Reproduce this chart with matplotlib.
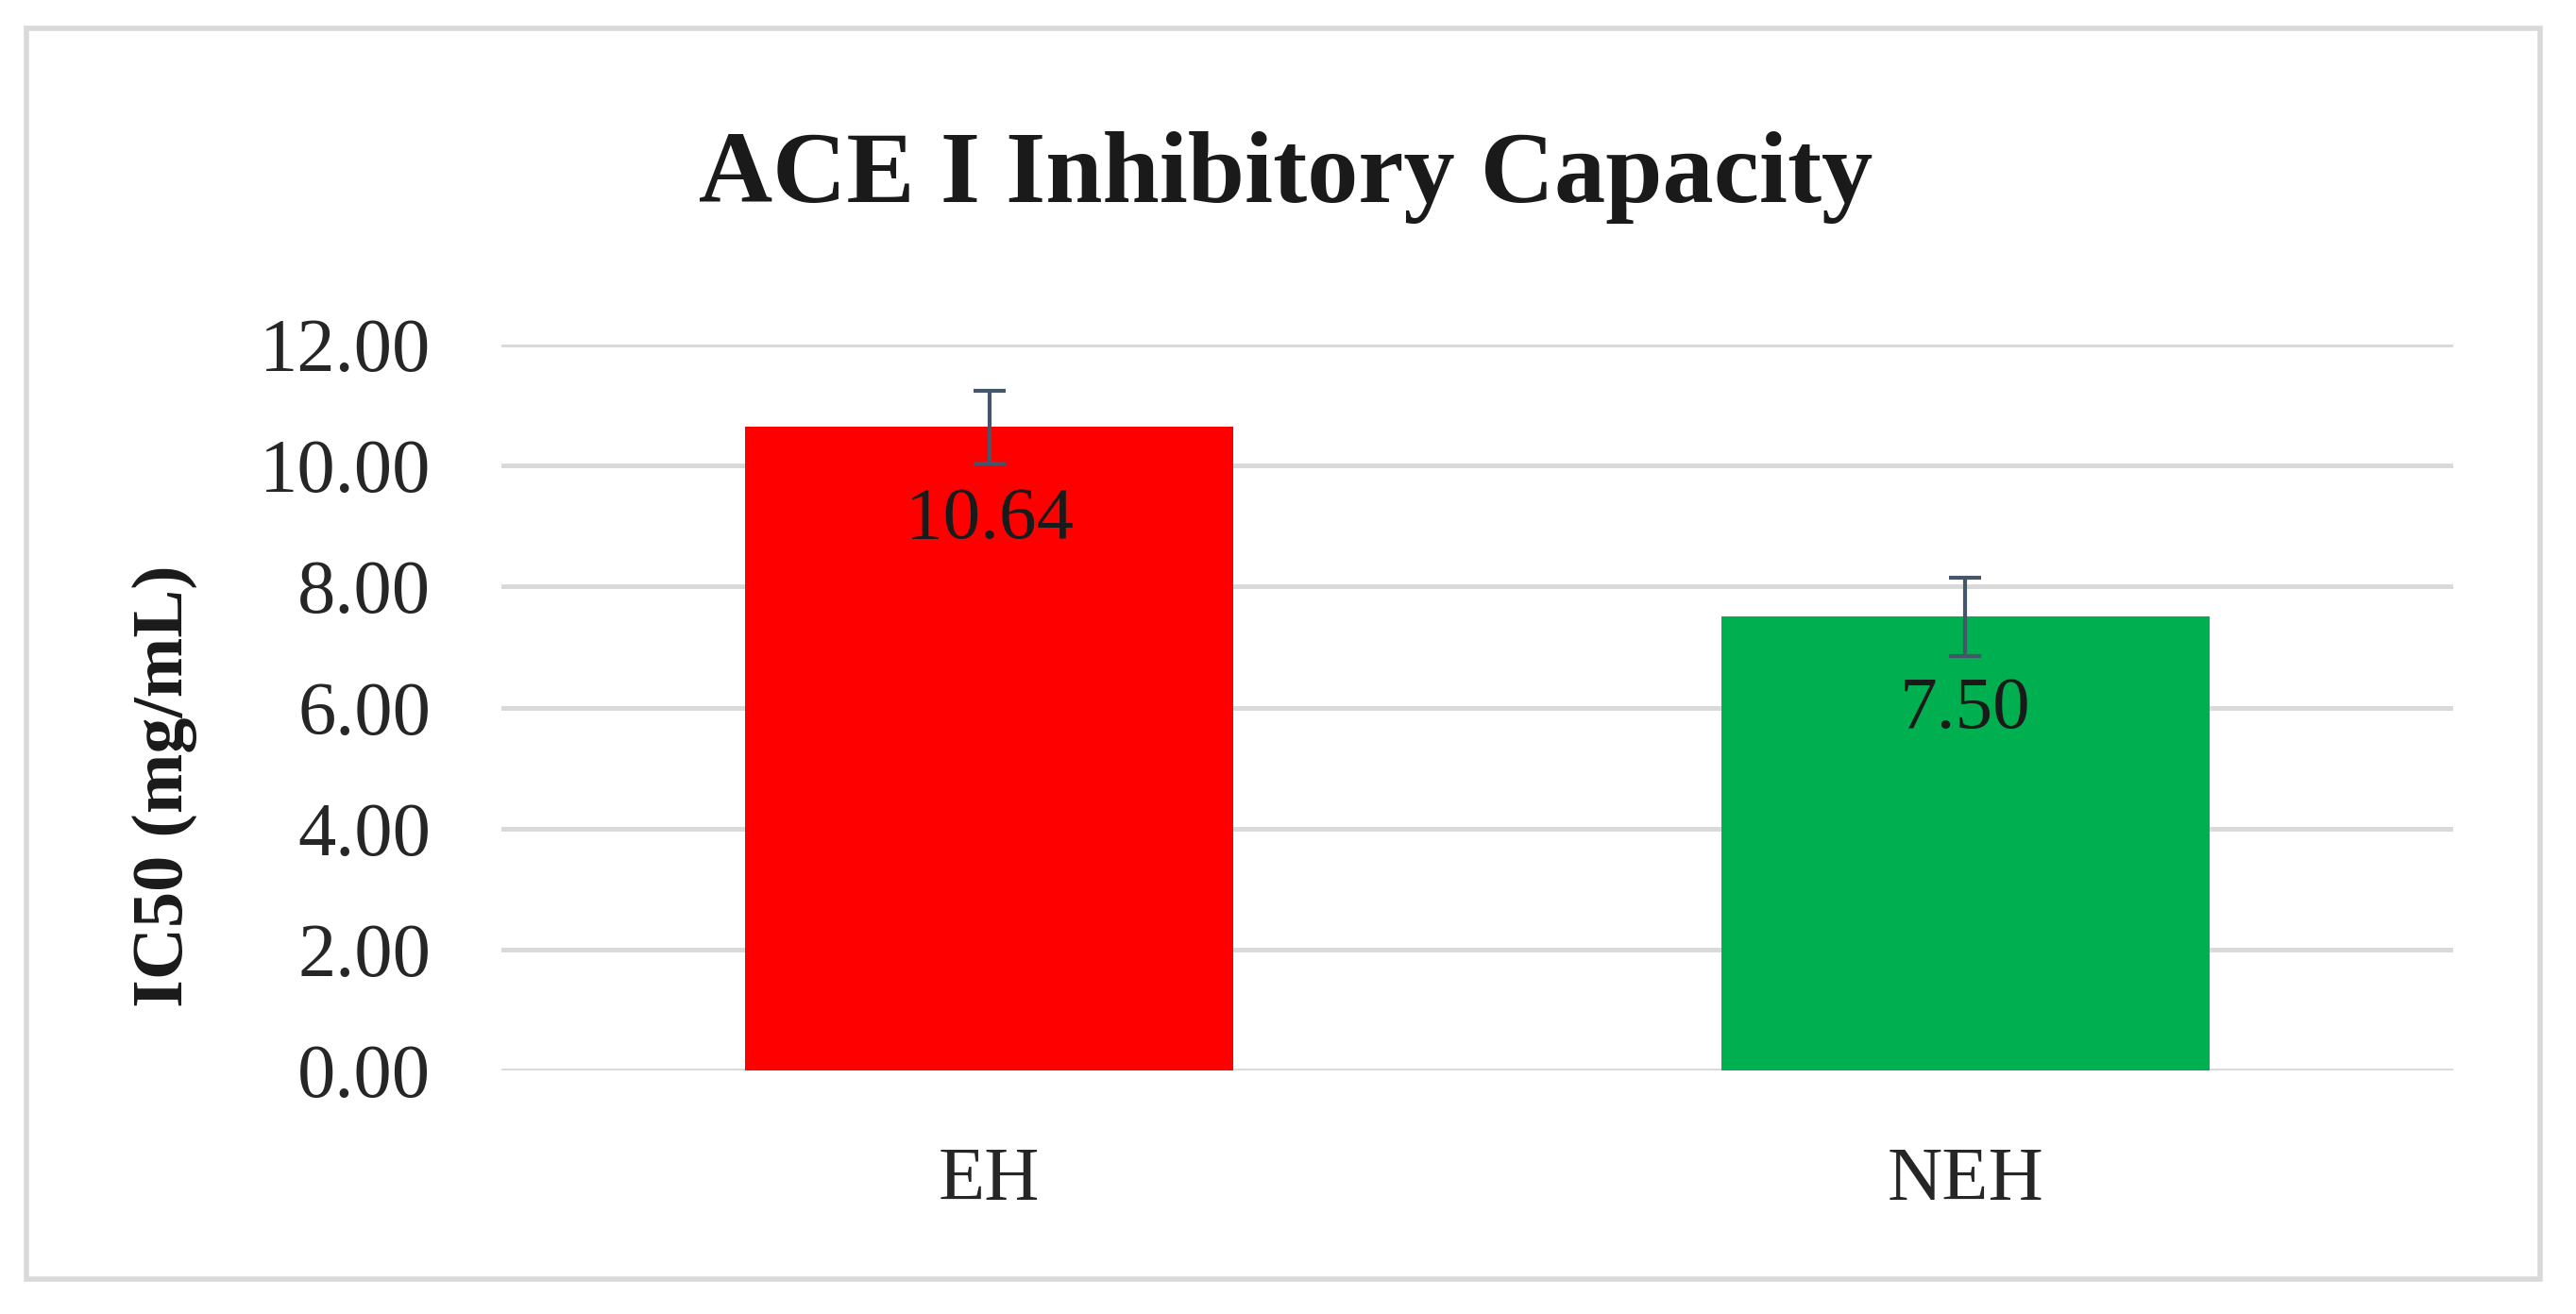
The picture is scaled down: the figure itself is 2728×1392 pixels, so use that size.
import matplotlib
matplotlib.use("Agg")
import matplotlib.pyplot as plt
from matplotlib.patches import Rectangle

categories = ["EH", "NEH"]
ic50_values = [10.64, 7.50]
ic50_errors = [0.60, 0.65]
bar_colors = ["#ff0000", "#00b050"]
y_ticks = [0, 2, 4, 6, 8, 10, 12]
title_text = "ACE I Inhibitory Capacity"
y_label_text = "IC50 (mg/mL)"

plt.rcParams['font.family'] = ['Liberation Serif', 'DejaVu Serif']

fig = plt.figure(figsize=(27.28, 13.92), dpi=100)
fig.patch.set_facecolor("white")

ax = fig.add_axes([0.1947, 0.1853, 0.7576, 0.5525])
x = list(range(len(categories)))
ax.bar(x, ic50_values, width=0.5, color=bar_colors, zorder=3)
ax.errorbar(x, ic50_values, yerr=ic50_errors, fmt='none', ecolor='#46566a',
            elinewidth=3, capsize=12, capthick=3, zorder=4)

for xi, v in zip(x, ic50_values):
    ax.annotate(f"{v:.2f}", xy=(xi, v), xytext=(0, -71), textcoords='offset points',
                ha='center', va='center', fontsize=57, color='#1a1a1a', zorder=5)

ax.set_xlim(-0.5, 1.5)
ax.set_ylim(0, 12)
ax.set_yticks(y_ticks)
ax.set_yticklabels([f"{t:.2f}" for t in y_ticks])
ax.set_xticks(x)
ax.set_xticklabels(categories)
ax.tick_params(axis='y', length=0, pad=54, labelsize=58, labelcolor='#262626')
ax.tick_params(axis='x', length=0, pad=58, labelsize=58, labelcolor='#262626')
ax.grid(axis='y', color='#d9d9d9', linewidth=3.5, zorder=0)
ax.set_axisbelow(True)
for s in ax.spines.values():
    s.set_visible(False)
ax.set_facecolor('white')

fig.text(0.4993, 0.865, title_text, ha='center', va='center', fontsize=78,
         fontweight='bold', color='#1a1a1a')
fig.text(0.0638, 0.402, y_label_text, ha='center', va='center', rotation=90,
         fontsize=55, fontweight='bold', color='#1a1a1a')

fig.patches.append(Rectangle((28/2728, 1 - 1355/1392), (2690-28)/2728, (1355-30)/1392,
                             transform=fig.transFigure, fill=False,
                             edgecolor='#d9d9d9', linewidth=4))

fig.savefig("out.png", dpi=100, facecolor='white')
